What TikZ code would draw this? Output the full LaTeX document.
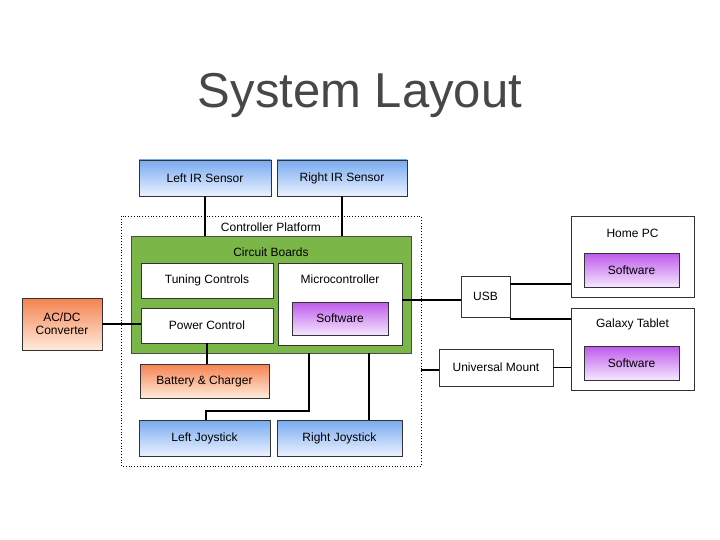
\documentclass[tikz,border=0pt]{standalone}
\usepackage{fontspec}
\setmainfont{Liberation Sans}
\definecolor{grn}{RGB}{122,182,72}
\definecolor{bltop}{RGB}{120,170,240}
\definecolor{bltbot}{RGB}{235,242,255}
\definecolor{ortop}{RGB}{245,130,80}
\definecolor{orbot}{RGB}{255,235,220}
\definecolor{pptop}{RGB}{190,90,235}
\definecolor{ppbot}{RGB}{245,230,255}
\begin{document}
\begin{tikzpicture}[x=1pt,y=-1pt,
 lbl/.style={font=\fontsize{12}{14}\selectfont},
 box/.style={draw=black!80,line width=0.8pt,lbl},
 blue/.style={box,top color=bltop,bottom color=bltbot},
 orange/.style={box,top color=ortop,bottom color=orbot},
 purp/.style={box,top color=pptop,bottom color=ppbot},
 wht/.style={box,fill=white},
 ln/.style={line width=1.2pt}]
\useasboundingbox (0,0) rectangle (720,540);
\node[text=black!72,font=\fontsize{49}{56}\selectfont] (title) at (360,95) {System Layout};
\node[blue,minimum width=132pt,minimum height=36pt] (lir) at (205,178) {Left IR Sensor};
\node[blue,minimum width=130pt,minimum height=36pt] (rir) at (342,178) {Right IR Sensor};
\draw[dotted,line width=0.8pt] (121,216) rectangle (421,466);
\coordinate (plat) at (421,370);
\node[lbl] (cp) at (271,227) {Controller Platform};
\node[box,fill=grn,draw=black!70,minimum width=280pt,minimum height=117pt] (cb) at (271,294.5) {};
\node[lbl] (cbl) at (271,252) {Circuit Boards};
\node[wht,minimum width=132pt,minimum height=35pt] (tc) at (207,280.5) {Tuning Controls};
\node[wht,minimum width=132pt,minimum height=35pt] (pc) at (207,325.5) {Power Control};
\node[wht,minimum width=124pt,minimum height=82pt] (mc) at (340,304) {};
\node[lbl] (mcl) at (340,279) {Microcontroller};
\node[purp,minimum width=96pt,minimum height=33pt] (sw1) at (340,318.5) {Software};
\node[orange,minimum width=80pt,minimum height=52pt,align=center,font=\fontsize{12}{13}\selectfont] (ac) at (62,324) {AC/DC\\Converter};
\node[orange,minimum width=129pt,minimum height=34pt] (bat) at (204.5,381) {Battery \& Charger};
\node[blue,minimum width=131pt,minimum height=36pt] (lj) at (204.5,438) {Left Joystick};
\node[blue,minimum width=125pt,minimum height=36pt] (rj) at (339.5,438) {Right Joystick};
\node[wht,minimum width=49pt,minimum height=41pt] (usb) at (485.5,296.5) {USB};
\node[wht,minimum width=114pt,minimum height=37pt] (um) at (496,367.5) {Universal Mount};
\node[wht,minimum width=123pt,minimum height=81pt] (hpc) at (632.5,256.5) {};
\node[lbl] (hpcl) at (632.5,233) {Home PC};
\node[purp,minimum width=95pt,minimum height=34pt] (sw2) at (631.5,270) {Software};
\node[wht,minimum width=123pt,minimum height=82pt] (gt) at (632.5,349) {};
\node[lbl] (gtl) at (632.5,324) {Galaxy Tablet};
\node[purp,minimum width=95pt,minimum height=34pt] (sw3) at (631.5,363) {Software};
\draw[ln] (lir.south) -- (lir.south |- cb.north);
\draw[ln] (rir.south) -- (rir.south |- cb.north);
\draw[ln] (ac.east) -- (ac.east -| pc.west);
\draw[ln] (pc.south) -- (pc.south |- bat.north);
\draw[ln] (309,353) |- (206,411) -- (206,420);
\draw[ln] (369,353) -- (369,420);
\draw[ln] (mc.east |- 0,300) -- (usb.west |- 0,300);
\draw[ln] (usb.east |- 0,284) -- (hpc.west |- 0,284);
\draw[ln] (usb.east |- 0,319) -- (gt.west |- 0,319);
\draw[ln] (plat) -- (um.west |- plat);
\draw[ln] (um.east) -- (um.east -| gt.west);
\end{tikzpicture}
\end{document}
